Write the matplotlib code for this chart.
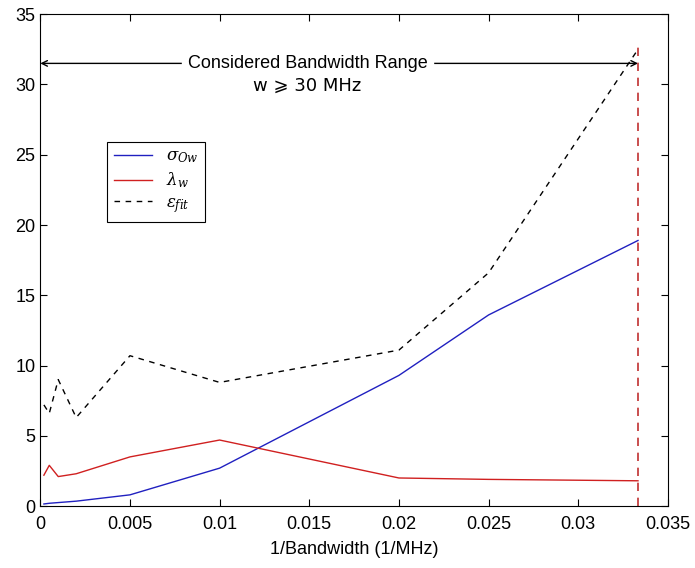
import matplotlib
matplotlib.use('Agg')
import matplotlib.pyplot as plt

plt.rcParams['font.family'] = ['Liberation Sans Narrow', 'Liberation Sans', 'DejaVu Sans']
plt.rcParams['mathtext.fontset'] = 'dejavuserif'

# 1/bandwidth for w = 5000, 2000, 1000, 500, 200, 100, 50, 40, 30 MHz
inv_bw = [0.0002, 0.0005, 0.001, 0.002, 0.005, 0.01, 0.02, 0.025, 1 / 30]
sigma = [0.15, 0.2, 0.25, 0.35, 0.8, 2.7, 9.3, 13.6, 18.9]
lam = [2.2, 2.9, 2.1, 2.3, 3.5, 4.7, 2.0, 1.9, 1.8]
eps_fit = [7.2, 6.6, 9.0, 6.3, 10.7, 8.8, 11.1, 16.6, 32.5]

x_limit = 1 / 30
arrow_y = 31.5

fig = plt.figure(figsize=(6.95, 5.68), dpi=100)
ax = fig.add_axes([0.058, 0.109, 0.903, 0.866])

ax.plot(inv_bw, sigma, color='#2020c0', lw=1, label=r'$\sigma_{Ow}$')
ax.plot(inv_bw, lam, color='#d02020', lw=1, label=r'$\lambda_w$')
ax.plot(inv_bw, eps_fit, color='black', lw=1, ls=(0, (4, 4)), label=r'$\varepsilon_{fit}$')

# considered range marker
ax.plot([x_limit, x_limit], [0, 33], color='#c03030', lw=1.2, ls=(0, (5, 4)))
ax.annotate('', xy=(0, arrow_y), xytext=(x_limit, arrow_y),
            arrowprops=dict(arrowstyle='<->', color='black', lw=1, shrinkA=0, shrinkB=0))
ax.text(0.0149, arrow_y, 'Considered Bandwidth Range', ha='center', va='center',
        fontsize=13, backgroundcolor='white')
ax.text(0.0149, arrow_y - 1.6, 'w ⩾ 30 MHz', ha='center', va='center', fontsize=13,
        family=['Liberation Sans Narrow', 'DejaVu Sans'])

ax.set_xlim(0, 0.035)
ax.set_ylim(0, 35)
ax.set_xticks([0, 0.005, 0.01, 0.015, 0.02, 0.025, 0.03, 0.035])
ax.set_xticklabels(['0', '0.005', '0.01', '0.015', '0.02', '0.025', '0.03', '0.035'])
ax.set_yticks(range(0, 36, 5))
ax.tick_params(direction='in', top=True, right=True, labelsize=13, length=5)
ax.tick_params(axis='x', pad=7)
ax.set_xlabel('1/Bandwidth (1/MHz)', fontsize=13, labelpad=6)

leg = ax.legend(loc='upper left', bbox_to_anchor=(0.107, 0.74), borderaxespad=0,
                fancybox=False, edgecolor='black', framealpha=1, fontsize=12,
                handlelength=2.3, borderpad=0.4, labelspacing=0.3)
leg.get_frame().set_linewidth(0.8)

fig.savefig('out.png', dpi=100)
